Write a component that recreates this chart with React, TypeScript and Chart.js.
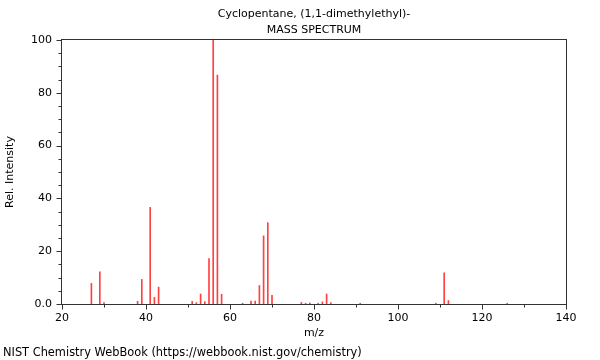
import React, { useEffect, useRef } from 'react';
import { Chart, registerables } from 'chart.js';

Chart.register(...registerables);

const TITLE = 'Cyclopentane, (1,1-dimethylethyl)-';
const SUBTITLE = 'MASS SPECTRUM';
const FOOTER = 'NIST Chemistry WebBook (https://webbook.nist.gov/chemistry)';
const X_LABEL = 'm/z';
const Y_LABEL = 'Rel. Intensity';

const MZ = [27, 29, 30, 38, 39, 41, 42, 43, 51, 52, 53, 54, 55, 56, 57, 58, 63, 65, 66, 67, 68, 69, 70, 77, 78, 79, 81, 82, 83, 84, 91, 109, 111, 112, 126];
const INTENSITY = [7.8, 12.2, 0.5, 1.0, 9.3, 36.6, 2.5, 6.4, 1.0, 0.5, 3.8, 0.9, 17.2, 100, 86.7, 3.7, 0.3, 1.1, 1.1, 7.0, 25.8, 30.8, 3.3, 0.6, 0.3, 0.4, 0.3, 0.8, 3.8, 0.5, 0.3, 0.3, 11.8, 1.3, 0.3];

const X_MIN = 20;
const X_MAX = 140;
const X_STEP = 10;
const Y_MIN = 0;
const Y_MAX = 100;
const Y_STEP = 5;
const LABEL_EVERY = 20;

const FONT = 'DejaVu Sans';

const framePlugin = {
  id: 'frame',
  afterDraw(chart: any) {
    const { ctx, chartArea: a, scales } = chart;
    ctx.save();
    ctx.strokeStyle = '#333';
    ctx.lineWidth = 1;
    const l = Math.round(a.left) - 0.5;
    const r = Math.round(a.right) + 0.5;
    const t = Math.round(a.top) - 0.5;
    const b = Math.round(a.bottom) + 0.5;
    ctx.strokeRect(l, t, r - l, b - t);
    ctx.beginPath();
    scales.x.ticks.forEach((tk: any) => {
      const px = Math.round(scales.x.getPixelForValue(tk.value)) + 0.5;
      const len = tk.value % LABEL_EVERY === 0 ? 5 : 3;
      ctx.moveTo(px, b);
      ctx.lineTo(px, b + len);
    });
    scales.y.ticks.forEach((tk: any) => {
      const py = Math.round(scales.y.getPixelForValue(tk.value)) + 0.5;
      const len = tk.value % LABEL_EVERY === 0 ? 5 : 3;
      ctx.moveTo(l, py);
      ctx.lineTo(l - len, py);
    });
    ctx.stroke();

    ctx.fillStyle = '#000';
    ctx.font = `11px "${FONT}"`;
    ctx.textAlign = 'center';
    ctx.textBaseline = 'middle';
    const cx = (a.left + a.right) / 2;
    ctx.fillText(TITLE, cx, 14);
    ctx.fillText(SUBTITLE, cx, 30);
    ctx.font = `11.4px "${FONT}"`;
    ctx.textAlign = 'left';
    ctx.fillText(FOOTER, 3, 353);
    ctx.restore();
  },
};

export default function App() {
  const ref = useRef<HTMLCanvasElement>(null);
  useEffect(() => {
    if (!ref.current) return;
    const chart = new Chart(ref.current, {
      type: 'bar',
      data: {
        datasets: [
          {
            data: MZ.map((m, i) => ({ x: m, y: INTENSITY[i] })),
            backgroundColor: 'rgba(255,0,0,0.75)',
            borderWidth: 0,
            barThickness: 1,
            grouped: false,
          } as any,
        ],
      },
      options: {
        animation: false,
        responsive: false,
        maintainAspectRatio: false,
        layout: { padding: { top: 40, right: 34, left: 0, bottom: 0 } },
        plugins: { legend: { display: false }, tooltip: { enabled: false }, title: { display: false } },
        scales: {
          x: {
            type: 'linear',
            min: X_MIN,
            max: X_MAX,
            offset: false,
            grid: { display: false, drawTicks: false },
            border: { display: false },
            ticks: {
              stepSize: X_STEP,
              autoSkip: false,
              maxRotation: 0,
              padding: 8,
              color: '#000',
              font: { family: FONT, size: 11 },
              callback: (v: any) => (Number(v) % LABEL_EVERY === 0 ? String(v) : ''),
            },
            title: { display: true, text: X_LABEL, color: '#000', font: { family: FONT, size: 11 }, padding: { top: 0, bottom: 20 } },
            afterFit: (s: any) => { s.height = 56; },
          },
          y: {
            min: Y_MIN,
            max: Y_MAX,
            grid: { display: false, drawTicks: false },
            border: { display: false },
            ticks: {
              stepSize: Y_STEP,
              autoSkip: false,
              padding: 10,
              color: '#000',
              font: { family: FONT, size: 11 },
              callback: (v: any) => (Number(v) === 0 ? '0.0' : Number(v) % LABEL_EVERY === 0 ? String(v) : ''),
            },
            title: { display: true, text: Y_LABEL, color: '#000', font: { family: FONT, size: 11 }, padding: { top: 4, bottom: 0 } },
            afterFit: (s: any) => { s.width = 62; },
          },
        } as any,
      },
      plugins: [framePlugin],
    });
    return () => chart.destroy();
  }, []);
  return (
    <div style={{ position: 'absolute', left: 0, top: 0, width: 600, height: 360, background: '#fff' }}>
      <canvas ref={ref} width={600} height={360} />
    </div>
  );
}
